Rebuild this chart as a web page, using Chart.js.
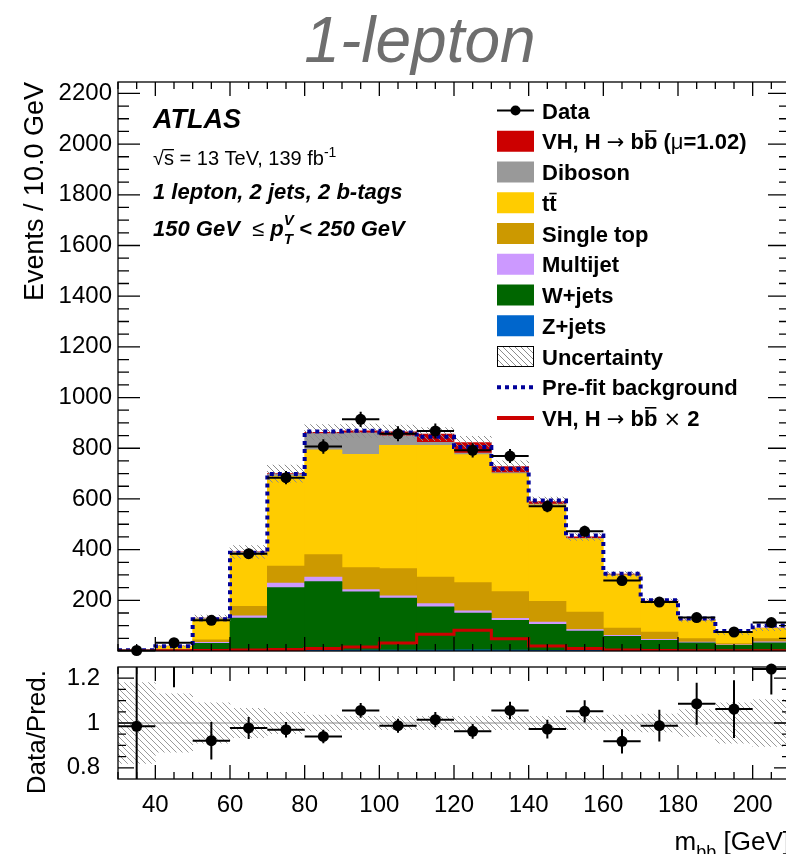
<!DOCTYPE html>
<html>
<head>
<meta charset="utf-8">
<title>1-lepton m_bb</title>
<script src="https://cdn.jsdelivr.net/npm/chart.js@4.4.1/dist/chart.umd.min.js"></script>
<style>
html, body { margin: 0; padding: 0; background: #fff; }
#wrap { position: relative; width: 786px; height: 854px; overflow: hidden; }
canvas { position: absolute; left: 0; }
#main { top: 0; }
#ratio { top: 660px; }
</style>
</head>
<body>
<div id="wrap">
  <canvas id="main" width="800" height="660"></canvas>
  <canvas id="ratio" width="800" height="194"></canvas>
</div>
<script>
// m_bb bins, 10 GeV wide, 30-210 GeV
const binCenters = [35, 45, 55, 65, 75, 85, 95, 105, 115, 125, 135, 145, 155, 165, 175, 185, 195, 205];
const halfWidth = 5;

// post-fit stack, events per bin (bottom of the stack first)
const zJets     = [0.3, 0.5, 2, 3, 3, 3, 4, 4, 4, 5, 4, 3, 3, 2, 2, 1, 1, 1];
const wJets     = [0.5, 3, 28, 127, 247, 271, 229, 205, 170, 145, 117, 102, 76, 56, 40, 31, 21, 31];
const multijet  = [0, 0.5, 4, 9, 18, 18, 9, 9, 13, 8, 8, 9, 6, 4, 4, 3, 2, 4];
const singleTop = [0.3, 3, 10, 37, 67, 88, 87, 107, 105, 112, 105, 82, 69, 28, 29, 14, 5, 13];
const ttbar     = [1.2, 11, 82, 208, 355, 414, 447, 486, 519, 505, 466, 381, 289, 210, 120, 71.5, 41, 40];
const diboson   = [0.2, 1, 3, 5, 7, 64, 85, 38, 12, 6, 4, 3, 2, 1, 1, 1, 0.7, 0.7];
const vhSignal  = [0, 0.3, 1, 2, 3, 5, 8, 16, 33, 41, 24, 10, 5, 2, 1, 0.5, 0.3, 0.3];

// pre-fit background (dotted outline)
const prefitBkg = [3, 19, 125, 388, 698, 866, 869, 862, 845, 805, 719, 594, 456, 305, 200, 128, 79, 101];

// data with statistical errors
const dataEvents = [2, 33, 121, 384, 684, 807, 914, 857, 868, 792, 769, 571, 472, 278, 193, 132, 75, 112];
const dataErr    = [1.4, 5.7, 11, 19.6, 26.2, 28.4, 30.2, 29.3, 29.5, 28.1, 27.7, 23.9, 21.7, 16.7, 13.9, 11.5, 8.7, 10.6];

// lower panel
const ratioValues = [0.985, 1.6, 0.921, 0.978, 0.97, 0.94, 1.056, 0.988, 1.015, 0.963, 1.056, 0.973, 1.052, 0.918, 0.988, 1.086, 1.062, 1.241];
const ratioErr    = [0.6, 0.44, 0.084, 0.049, 0.035, 0.03, 0.033, 0.031, 0.034, 0.033, 0.039, 0.042, 0.05, 0.054, 0.071, 0.094, 0.129, 0.114];
const relUnc      = [0.18, 0.13, 0.09, 0.065, 0.048, 0.035, 0.03, 0.03, 0.03, 0.03, 0.03, 0.03, 0.03, 0.035, 0.04, 0.06, 0.09, 0.105];

const xTicks = [40, 60, 80, 100, 120, 140, 160, 180, 200];
const yMainTicks = [200, 400, 600, 800, 1000, 1200, 1400, 1600, 1800, 2000, 2200];
const yRatioTicks = [0.8, 1, 1.2];

const FAMILY = '"Liberation Sans", Arial, Helvetica, sans-serif';
const SYMBOL = '"DejaVu Sans", "Liberation Sans", sans-serif';
const F = (style, size) => `${style} ${size}px ${FAMILY}`;
const S = size => `${size}px ${SYMBOL}`;
Chart.defaults.font.family = FAMILY;
Chart.defaults.color = '#000';

const COLORS = {
  vh: '#cc0000', diboson: '#999999', ttbar: '#ffcc00', stop: '#cc9900',
  multijet: '#cc99ff', wjets: '#006600', zjets: '#0066cc', prefit: '#000099'
};

function makeHatch(canvas, color) {
  const s = 6;
  const tile = document.createElement('canvas');
  tile.width = tile.height = s;
  const g = tile.getContext('2d');
  g.strokeStyle = color;
  g.lineWidth = 1;
  g.beginPath();
  for (let k = -1; k <= 1; k++) {
    g.moveTo(k * s, 0);
    g.lineTo(k * s + s, s);
  }
  g.stroke();
  return canvas.getContext('2d').createPattern(tile, 'repeat');
}

const mainCanvas = document.getElementById('main');
const ratioCanvas = document.getElementById('ratio');
const hatchMain = makeHatch(mainCanvas, '#8c8c8c');
const hatchRatio = makeHatch(ratioCanvas, '#9a9a9a');

const stackTotal = binCenters.map((_, i) =>
  zJets[i] + wJets[i] + multijet[i] + singleTop[i] + ttbar[i] + diboson[i] + vhSignal[i]);

// histogram outline: one point per left edge, plus the last right edge
const stepPoints = vals => binCenters.map((c, i) => ({x: c - halfWidth, y: vals[i]}))
  .concat([{x: binCenters[binCenters.length - 1] + halfWidth, y: vals[vals.length - 1]}]);

const stackSet = (label, vals, color) => ({
  type: 'bar', label, order: 5, stack: 'mc',
  data: binCenters.map((c, i) => ({x: c, y: vals[i]})),
  backgroundColor: color, borderWidth: 0,
  barPercentage: 1, categoryPercentage: 1
});

// frame with ROOT-style inward ticks on all four sides
const framePlugin = {
  id: 'frame',
  afterDraw(chart, args, o) {
    const {ctx, chartArea: a, scales: {x, y}} = chart;
    ctx.save();
    ctx.strokeStyle = '#000';
    ctx.lineWidth = 1.3;
    ctx.strokeRect(a.left, a.top, a.right - a.left, a.bottom - a.top);
    ctx.beginPath();
    for (let v = 30; v <= 210; v += 5) {
      const px = x.getPixelForValue(v);
      const len = v % 20 === 0 ? o.xMajor : o.xMinor;
      ctx.moveTo(px, a.bottom); ctx.lineTo(px, a.bottom - len);
      ctx.moveTo(px, a.top); ctx.lineTo(px, a.top + len);
    }
    const n = Math.round((y.max - o.yFirst) / o.yStep);
    for (let k = 1; k <= n; k++) {
      const py = y.getPixelForValue(o.yFirst + k * o.yStep);
      if (py < a.top + 0.5) continue;
      const len = k % o.yMajorEvery === o.yMajorOffset ? o.yMajor : o.yMinor;
      ctx.moveTo(a.left, py); ctx.lineTo(a.left + len, py);
      ctx.moveTo(a.right, py); ctx.lineTo(a.right - len, py);
    }
    ctx.stroke();
    ctx.restore();
  }
};

const errorBarPlugin = {
  id: 'errbars',
  afterDatasetsDraw(chart, args, o) {
    const {ctx, chartArea: a, scales: {x, y}} = chart;
    ctx.save();
    if (o.clip) {
      ctx.beginPath();
      ctx.rect(a.left, a.top, a.right - a.left, a.bottom - a.top);
      ctx.clip();
    }
    ctx.strokeStyle = '#000';
    ctx.lineWidth = 2;
    ctx.beginPath();
    o.values.forEach((v, i) => {
      const c = binCenters[i];
      const px = x.getPixelForValue(c);
      const py = y.getPixelForValue(v);
      ctx.moveTo(x.getPixelForValue(c - halfWidth), py);
      ctx.lineTo(x.getPixelForValue(c + halfWidth), py);
      ctx.moveTo(px, y.getPixelForValue(v - o.errors[i]));
      ctx.lineTo(px, y.getPixelForValue(v + o.errors[i]));
    });
    ctx.stroke();
    ctx.restore();
  }
};

// text run with sub/superscripts and overlines
function richText(ctx, x, y, parts) {
  let cx = x;
  parts.forEach(p => {
    ctx.font = p.font;
    const w = ctx.measureText(p.t).width;
    ctx.fillText(p.t, cx, y + (p.dy || 0));
    if (p.bar) ctx.fillRect(cx + p.bar[0], y - p.bar[1], w - 2 * p.bar[0], p.bar[2]);
    if (p.advance !== false) cx += w;
  });
  return cx;
}

function drawLegend(ctx) {
  const x0 = 497, x1 = 534, tx = 542, y0 = 110.5, dy = 30.75;
  const b = F('bold', 22);
  const bbar = [1, 19, 1.6];
  const rows = [
    {kind: 'data', parts: [{t: 'Data', font: b}]},
    {kind: 'box', color: COLORS.vh, parts: [{t: 'VH, H ', font: b}, {t: '\u2192', font: S(21)}, {t: ' b', font: b},
      {t: 'b', font: b, bar: bbar}, {t: ' (', font: b}, {t: '\u03bc', font: F('', 22)}, {t: '=1.02)', font: b}]},
    {kind: 'box', color: COLORS.diboson, parts: [{t: 'Diboson', font: b}]},
    {kind: 'box', color: COLORS.ttbar, parts: [{t: 't', font: b}, {t: 't', font: b, bar: [0, 18, 1.6]}]},
    {kind: 'box', color: COLORS.stop, parts: [{t: 'Single top', font: b}]},
    {kind: 'box', color: COLORS.multijet, parts: [{t: 'Multijet', font: b}]},
    {kind: 'box', color: COLORS.wjets, parts: [{t: 'W+jets', font: b}]},
    {kind: 'box', color: COLORS.zjets, parts: [{t: 'Z+jets', font: b}]},
    {kind: 'hatch', parts: [{t: 'Uncertainty', font: b}]},
    {kind: 'dots', parts: [{t: 'Pre-fit background', font: b}]},
    {kind: 'line', parts: [{t: 'VH, H ', font: b}, {t: '\u2192', font: S(21)}, {t: ' b', font: b},
      {t: 'b', font: b, bar: bbar}, {t: ' ', font: b}, {t: '\u00d7', font: S(21)}, {t: ' 2', font: b}]}
  ];
  rows.forEach((r, i) => {
    const cy = y0 + i * dy;
    ctx.save();
    if (r.kind === 'box') {
      ctx.fillStyle = r.color;
      ctx.fillRect(x0, cy - 10.5, x1 - x0, 21);
    } else if (r.kind === 'hatch') {
      ctx.fillStyle = hatchMain;
      ctx.fillRect(x0, cy - 10.5, x1 - x0, 21);
      ctx.strokeStyle = '#000';
      ctx.lineWidth = 1;
      ctx.strokeRect(x0 + 0.5, cy - 10, x1 - x0 - 1, 20);
    } else if (r.kind === 'data') {
      ctx.strokeStyle = '#000';
      ctx.lineWidth = 2;
      ctx.beginPath(); ctx.moveTo(x0, cy); ctx.lineTo(x1, cy); ctx.stroke();
      ctx.fillStyle = '#000';
      ctx.beginPath(); ctx.arc((x0 + x1) / 2, cy, 5, 0, 2 * Math.PI); ctx.fill();
    } else if (r.kind === 'dots') {
      ctx.strokeStyle = COLORS.prefit;
      ctx.lineWidth = 4;
      ctx.setLineDash([4, 4]);
      ctx.beginPath(); ctx.moveTo(x0, cy); ctx.lineTo(x1, cy); ctx.stroke();
    } else if (r.kind === 'line') {
      ctx.strokeStyle = COLORS.vh;
      ctx.lineWidth = 4;
      ctx.beginPath(); ctx.moveTo(x0, cy); ctx.lineTo(x1, cy); ctx.stroke();
    }
    ctx.restore();
    ctx.fillStyle = '#000';
    richText(ctx, tx, cy + 8, r.parts);
  });
}

const mainText = {
  id: 'mainText',
  afterDraw(chart) {
    const ctx = chart.ctx;
    ctx.save();
    ctx.textBaseline = 'alphabetic';
    ctx.textAlign = 'center';
    ctx.fillStyle = '#6e6e6e';
    ctx.font = F('italic', 64);
    ctx.fillText('1-lepton', 420, 62);

    ctx.textAlign = 'left';
    ctx.fillStyle = '#000';
    ctx.font = F('italic bold', 27);
    ctx.fillText('ATLAS', 153, 128);
    const r20 = F('', 20), r14 = F('', 14);
    richText(ctx, 153, 165, [
      {t: '\u221a', font: r20}, {t: 's', font: r20, bar: [0, 16, 1.3]},
      {t: ' = 13 TeV, 139 fb', font: r20}, {t: '-1', font: r14, dy: -8}
    ]);
    const bi = F('italic bold', 22), bi14 = F('italic bold', 15);
    richText(ctx, 153, 199, [{t: '1 lepton, 2 jets, 2 b-tags', font: bi}]);
    richText(ctx, 153, 236, [
      {t: '150 GeV  ', font: bi}, {t: '\u2264 ', font: F('', 22)}, {t: 'p', font: bi},
      {t: 'V', font: bi14, dy: -11, advance: false}, {t: 'T', font: bi14, dy: 8},
      {t: ' < 250 GeV', font: bi}
    ]);
    drawLegend(ctx);
    ctx.restore();
  }
};

const ratioText = {
  id: 'ratioText',
  afterDraw(chart) {
    const {ctx, chartArea: a} = chart;
    ctx.save();
    ctx.fillStyle = '#000';
    ctx.translate(38, a.top);
    ctx.rotate(-Math.PI / 2);
    ctx.font = F('', 26);
    ctx.textAlign = 'right';
    ctx.textBaseline = 'middle';
    ctx.fillText('Data/Pred.', -3, 0);
    ctx.restore();

    ctx.save();
    ctx.fillStyle = '#000';
    ctx.textBaseline = 'alphabetic';
    const parts = [{t: 'm', font: F('', 26)}, {t: 'bb', font: F('', 18), dy: 8}, {t: ' [GeV]', font: F('', 26)}];
    let w = 0;
    parts.forEach(p => { ctx.font = p.font; w += ctx.measureText(p.t).width; });
    richText(ctx, a.right - w, 190, parts);
    ctx.restore();
  }
};

const fixedWidth = w => s => { s.width = w; s.paddingTop = 0; s.paddingBottom = 0; };

new Chart(mainCanvas, {
  type: 'bar',
  data: {
    datasets: [
      stackSet('Z+jets', zJets, COLORS.zjets),
      stackSet('W+jets', wJets, COLORS.wjets),
      stackSet('Multijet', multijet, COLORS.multijet),
      stackSet('Single top', singleTop, COLORS.stop),
      stackSet('ttbar', ttbar, COLORS.ttbar),
      stackSet('Diboson', diboson, COLORS.diboson),
      stackSet('VH', vhSignal, COLORS.vh),
      {
        type: 'bar', label: 'Uncertainty', stack: 'unc', grouped: false, order: 3,
        data: binCenters.map((c, i) => ({x: c, y: [stackTotal[i] * (1 - relUnc[i]), stackTotal[i] * (1 + relUnc[i])]})),
        backgroundColor: hatchMain, borderWidth: 0, barPercentage: 1, categoryPercentage: 1
      },
      {
        type: 'line', label: 'Pre-fit background', stack: 'prefit', order: 2,
        data: stepPoints(prefitBkg), stepped: 'before',
        borderColor: COLORS.prefit, borderWidth: 4, borderDash: [4, 4], borderCapStyle: 'butt',
        pointRadius: 0, fill: false
      },
      {
        type: 'line', label: 'VH x 2', stack: 'sig2', order: 1,
        data: stepPoints(vhSignal.map(v => 2 * v)), stepped: 'before',
        borderColor: COLORS.vh, borderWidth: 3, pointRadius: 0, fill: false
      },
      {
        type: 'scatter', label: 'Data', stack: 'data', order: 0, clip: false,
        data: binCenters.map((c, i) => ({x: c, y: dataEvents[i]})),
        pointRadius: 5.5, pointBackgroundColor: '#000', pointBorderWidth: 0
      }
    ]
  },
  options: {
    responsive: false, animation: false, events: [],
    layout: {padding: {top: 82, right: 10, bottom: 9, left: 0}},
    plugins: {
      legend: {display: false}, tooltip: {enabled: false},
      frame: {xMajor: 14, xMinor: 7, yFirst: 0, yStep: 50, yMajorEvery: 4, yMajorOffset: 0, yMajor: 22, yMinor: 11},
      errbars: {values: dataEvents, errors: dataErr, clip: false}
    },
    scales: {
      x: {
        type: 'linear', min: 30, max: 210, offset: false, stacked: true, display: false,
        grid: {offset: false},
        afterBuildTicks: s => { s.ticks = xTicks.map(v => ({value: v})); }
      },
      y: {
        type: 'linear', stacked: true, min: 0, max: 2245,
        afterBuildTicks: s => { s.ticks = yMainTicks.map(v => ({value: v})); },
        afterFit: fixedWidth(118),
        grid: {display: false, drawTicks: false}, border: {display: false},
        ticks: {font: {size: 24}, color: '#000', padding: 6, callback: v => String(v)},
        title: {display: true, text: 'Events / 10.0 GeV', align: 'end', color: '#000',
                font: {size: 27}, padding: {top: 19, bottom: 0}}
      }
    }
  },
  plugins: [framePlugin, errorBarPlugin, mainText]
});

new Chart(ratioCanvas, {
  type: 'bar',
  data: {
    datasets: [
      {
        type: 'bar', label: 'Uncertainty', order: 2,
        data: binCenters.map((c, i) => ({x: c, y: [1 - relUnc[i], 1 + relUnc[i]]})),
        backgroundColor: hatchRatio, borderWidth: 0, barPercentage: 1, categoryPercentage: 1
      },
      {
        type: 'line', label: 'unity', order: 1,
        data: [{x: 30, y: 1}, {x: 210, y: 1}],
        borderColor: '#8a8a8a', borderWidth: 1, pointRadius: 0, fill: false
      },
      {
        type: 'scatter', label: 'Data/Pred.', order: 0, clip: false,
        data: binCenters.map((c, i) => ({x: c, y: ratioValues[i]})),
        pointRadius: 5.5, pointBackgroundColor: '#000', pointBorderWidth: 0
      }
    ]
  },
  options: {
    responsive: false, animation: false, events: [],
    layout: {padding: {top: 7, right: 10, bottom: 0, left: 0}},
    plugins: {
      legend: {display: false}, tooltip: {enabled: false},
      frame: {xMajor: 14, xMinor: 7, yFirst: 0.75, yStep: 0.05, yMajorEvery: 4, yMajorOffset: 1, yMajor: 16, yMinor: 8},
      errbars: {values: ratioValues, errors: ratioErr, clip: true}
    },
    scales: {
      x: {
        type: 'linear', min: 30, max: 210, offset: false,
        grid: {display: false, drawTicks: false, offset: false}, border: {display: false},
        afterBuildTicks: s => { s.ticks = xTicks.map(v => ({value: v})); },
        afterFit: s => { s.height = 75; s.paddingLeft = 0; s.paddingRight = 0; },
        ticks: {font: {size: 24}, color: '#000', padding: 12, maxRotation: 0, autoSkip: false,
                callback: v => String(v)}
      },
      y: {
        type: 'linear', min: 0.75, max: 1.25,
        afterBuildTicks: s => { s.ticks = yRatioTicks.map(v => ({value: v})); },
        afterFit: fixedWidth(118),
        grid: {display: false, drawTicks: false}, border: {display: false},
        ticks: {font: {size: 24}, color: '#000', padding: 18, callback: v => String(v)}
      }
    }
  },
  plugins: [framePlugin, errorBarPlugin, ratioText]
});
</script>
</body>
</html>
